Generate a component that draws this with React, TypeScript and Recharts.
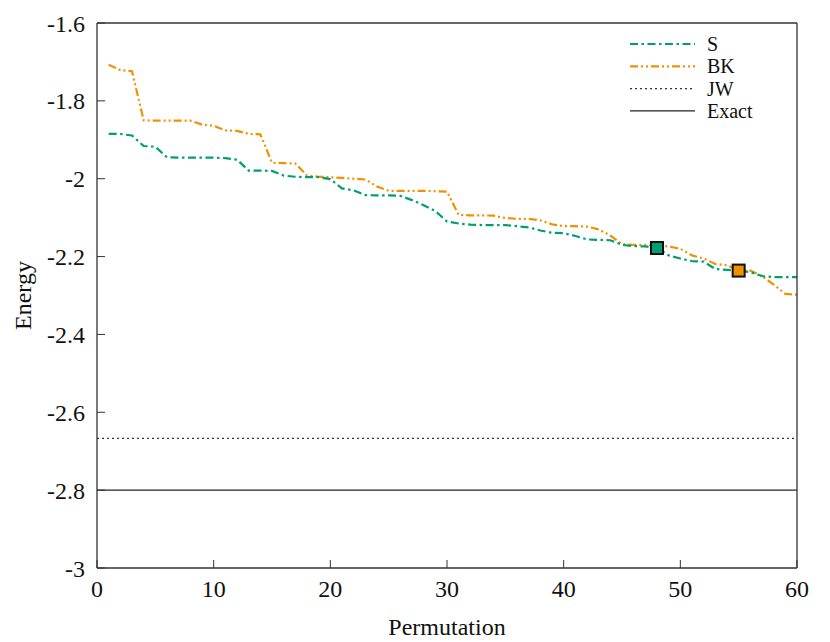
import React from 'react';
import { ComposedChart, Line, XAxis, YAxis } from 'recharts';

// permutation index 1..60
const permutations = Array.from({ length: 60 }, (_, i) => i + 1);

const sEnergy = [
  -1.885, -1.885, -1.889, -1.916, -1.918, -1.945, -1.946, -1.946, -1.946, -1.946,
  -1.947, -1.951, -1.979, -1.979, -1.980, -1.992, -1.995, -1.996, -1.996, -2.001,
  -2.025, -2.030, -2.042, -2.043, -2.043, -2.044, -2.055, -2.068, -2.083, -2.110,
  -2.115, -2.118, -2.119, -2.119, -2.119, -2.122, -2.125, -2.133, -2.139, -2.140,
  -2.147, -2.156, -2.157, -2.158, -2.170, -2.173, -2.174, -2.178, -2.197, -2.205,
  -2.212, -2.213, -2.232, -2.234, -2.236, -2.240, -2.250, -2.253, -2.253, -2.253,
];

const bkEnergy = [
  -1.707, -1.721, -1.724, -1.850, -1.851, -1.851, -1.851, -1.851, -1.861, -1.864,
  -1.876, -1.877, -1.885, -1.886, -1.959, -1.960, -1.961, -1.992, -1.995, -1.996,
  -1.998, -2.000, -2.002, -2.020, -2.031, -2.031, -2.031, -2.031, -2.032, -2.033,
  -2.093, -2.094, -2.094, -2.095, -2.101, -2.103, -2.103, -2.107, -2.117, -2.122,
  -2.122, -2.123, -2.130, -2.146, -2.168, -2.170, -2.170, -2.172, -2.174, -2.180,
  -2.197, -2.205, -2.219, -2.222, -2.236, -2.236, -2.250, -2.272, -2.296, -2.298,
];

const jwEnergy = -2.667;
const exactEnergy = -2.8;

// highlighted permutations
const sBest = 48;
const bkBest = 55;

const xTicks = [0, 10, 20, 30, 40, 50, 60];
const yTicks = [-3, -2.8, -2.6, -2.4, -2.2, -2, -1.8, -1.6];

const GREEN = '#009e73';
const ORANGE = '#f29100';
const FRAME = '#333';
const FONT = '"Liberation Serif", serif';
const FS = 24;

const data = [
  { x: 0, s: null, bk: null, jw: jwEnergy, exact: exactEnergy, sMark: null, bkMark: null },
  ...permutations.map((p, i) => ({
    x: p,
    s: sEnergy[i],
    bk: bkEnergy[i],
    jw: jwEnergy,
    exact: exactEnergy,
    sMark: p === sBest ? sEnergy[i] : null,
    bkMark: p === bkBest ? bkEnergy[i] : null,
  })),
];

const squareDot = (field: string, fill: string) => (props: any) => {
  const { cx, cy, index, payload } = props;
  if (payload == null || payload[field] == null || cx == null || cy == null) {
    return <g key={`${field}-${index}`} />;
  }
  return (
    <rect
      key={`${field}-${index}`}
      x={cx - 6}
      y={cy - 6}
      width={12}
      height={12}
      fill={fill}
      stroke="#111"
      strokeWidth={2}
    />
  );
};

const legendItems = [
  { name: 'S', color: GREEN, dash: '8 3.5 2.5 3.5', width: 2.2 },
  { name: 'BK', color: ORANGE, dash: '8 3 2 3 2 3', width: 2.2 },
  { name: 'JW', color: '#333', dash: '2 3', width: 1.3 },
  { name: 'Exact', color: '#222', dash: undefined, width: 1.3 },
];

const ChartLegend = () => (
  <svg width={170} height={100} style={{ display: 'block' }}>
    {legendItems.map((it, i) => {
      const y = 11 + i * 22.3;
      return (
        <g key={it.name}>
          <line x1={2} x2={67} y1={y} y2={y} stroke={it.color} strokeWidth={it.width} strokeDasharray={it.dash} />
          <text x={79} y={y} dominantBaseline="central" fontFamily={FONT} fontSize={20} fill="#111">
            {it.name}
          </text>
        </g>
      );
    })}
  </svg>
);

const fmt = (v: number) => String(Number(v.toFixed(1)));

const tickStyle = { fill: '#111', fontSize: FS, fontFamily: FONT };

export default function App() {
  return (
    <div style={{ position: 'relative', width: 822, height: 634 }}>
      <ComposedChart
        width={822}
        height={634}
        data={data}
        margin={{ top: 14, right: 32, bottom: 4, left: 0 }}
      >
        <XAxis
          dataKey="x"
          type="number"
          domain={[0, 60]}
          ticks={xTicks}
          tickSize={-8}
          tickMargin={20}
          height={70}
          stroke={FRAME}
          tickLine={{ stroke: FRAME }}
          axisLine={{ stroke: FRAME, strokeWidth: 1.3 }}
          tick={tickStyle}
          label={{ value: 'Permutation', position: 'insideBottom', offset: 3, style: { fill: '#111', fontSize: FS, fontFamily: FONT } }}
        />
        <XAxis
          xAxisId="top"
          orientation="top"
          dataKey="x"
          type="number"
          domain={[0, 60]}
          ticks={xTicks}
          tickSize={-8}
          height={1}
          tick={false}
          stroke={FRAME}
          axisLine={{ stroke: FRAME, strokeWidth: 1.3 }}
        />
        <YAxis
          type="number"
          domain={[-3, -1.6]}
          ticks={yTicks}
          tickFormatter={fmt}
          tickSize={-8}
          tickMargin={20}
          width={89}
          stroke={FRAME}
          axisLine={{ stroke: FRAME, strokeWidth: 1.3 }}
          tick={tickStyle}
          label={{ value: 'Energy', angle: -90, position: 'insideLeft', offset: 14, style: { textAnchor: 'middle', fill: '#111', fontSize: FS, fontFamily: FONT } }}
        />
        <YAxis
          yAxisId="right"
          orientation="right"
          type="number"
          domain={[-3, -1.6]}
          ticks={yTicks}
          tickSize={-8}
          width={1}
          tick={false}
          stroke={FRAME}
          axisLine={{ stroke: FRAME, strokeWidth: 1.3 }}
        />
        <Line dataKey="jw" stroke="#333" strokeWidth={1.3} strokeDasharray="2 3" dot={false} isAnimationActive={false} />
        <Line dataKey="exact" stroke="#222" strokeWidth={1.3} dot={false} isAnimationActive={false} />
        <Line dataKey="bk" stroke={ORANGE} strokeWidth={2.2} strokeDasharray="8 3 2 3 2 3" dot={false} isAnimationActive={false} />
        <Line dataKey="s" stroke={GREEN} strokeWidth={2.2} strokeDasharray="8 3.5 2.5 3.5" dot={false} isAnimationActive={false} />
        <Line dataKey="sMark" stroke="none" dot={squareDot('sMark', GREEN)} activeDot={false} isAnimationActive={false} />
        <Line dataKey="bkMark" stroke="none" dot={squareDot('bkMark', ORANGE)} activeDot={false} isAnimationActive={false} />
      </ComposedChart>
      <div style={{ position: 'absolute', left: 620, top: 25 }}>
        <ChartLegend />
      </div>
    </div>
  );
}
